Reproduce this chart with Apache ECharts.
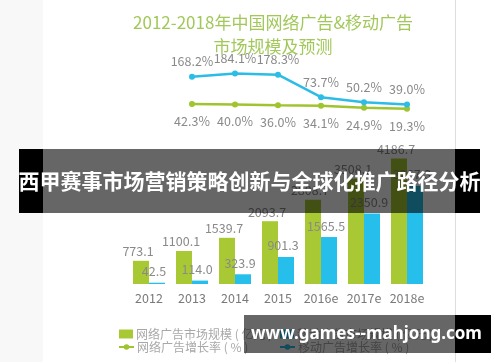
<!DOCTYPE html>
<html>
<head>
<meta charset="utf-8">
<script src="https://cdn.jsdelivr.net/npm/echarts@6/dist/echarts.min.js"></script>
<style>
html,body{margin:0;padding:0;background:#fff;}
#c{width:500px;height:362px;}
</style>
</head>
<body>
<div id="c"></div>
<script>
var titleText = '2012-2018年中国网络广告&移动广告\n市场规模及预测';
var categories = ['2012', '2013', '2014', '2015', '2016e', '2017e', '2018e'];
var onlineAdSize = [773.1, 1100.1, 1539.7, 2093.7, 2808.7, 3508.1, 4186.7];
var mobileAdSize = [42.5, 114.0, 323.9, 901.3, 1565.5, 2350.9, 3267.3];
var onlineGrowth = [null, 42.3, 40.0, 36.0, 34.1, 24.9, 19.3];
var mobileGrowth = [null, 168.2, 184.1, 178.3, 73.7, 50.2, 39.0];
var seriesNames = ['网络广告市场规模 ( 亿元 )', '移动广告市场规模 ( 亿元 )', '网络广告增长率 ( % )', '移动广告增长率 ( % )'];
var bannerText = '西甲赛事市场营销策略创新与全球化推广路径分析';
var watermarkText = 'www.games--mahjong.com';

var GREEN = '#a9c934', BLUE = '#26bfeb', LGREEN = '#9fc42f', LBLUE = '#2cbce6';
var FONT = '"Noto Sans CJK SC", "Noto Sans", sans-serif';
var chart = echarts.init(document.getElementById('c'), null, {renderer: 'canvas'});

function legendCfg(name, left, top, icon, w, h) {
  return {
    data: [{name: name, icon: icon}],
    left: left, top: top, itemWidth: w, itemHeight: h, itemGap: 0, padding: 0,
    selectedMode: false,
    textStyle: {color: '#a8a8a8', fontSize: 12, fontFamily: FONT, padding: [0, 0, 0, -2]}
  };
}

var option = {
  backgroundColor: '#ffffff',
  animation: false,
  textStyle: {fontFamily: FONT},
  title: {
    text: titleText,
    left: 268, top: 6, textAlign: 'center',
    textStyle: {fontSize: 17, fontWeight: 'normal', color: '#a2c85a', lineHeight: 24, fontFamily: FONT}
  },
  legend: [
    legendCfg(seriesNames[0], 119, 328, 'rect', 14, 9),
    legendCfg(seriesNames[1], 280, 328, 'rect', 14, 9),
    legendCfg(seriesNames[2], 118, 341, null, 15, 7),
    legendCfg(seriesNames[3], 279, 341, null, 15, 7)
  ],
  grid: [
    {left: 127.5, width: 301, top: 134, bottom: 78},
    {left: 127.5, width: 301, top: 70, bottom: 249}
  ],
  xAxis: [
    {
      type: 'category', gridIndex: 0, data: categories,
      axisLine: {show: false}, axisTick: {show: false},
      axisLabel: {color: '#7a7a7a', fontSize: 12.5, margin: 8, interval: 0, fontFamily: FONT}
    },
    {
      type: 'category', gridIndex: 1, data: categories, show: false
    }
  ],
  yAxis: [
    {type: 'value', gridIndex: 0, min: 0, max: 5000, show: false, splitLine: {show: false}},
    {type: 'value', gridIndex: 1, min: 0, max: 200, show: false, splitLine: {show: false}}
  ],
  series: [
    {
      name: seriesNames[0], type: 'bar', xAxisIndex: 0, yAxisIndex: 0,
      data: onlineAdSize, barWidth: 16, barGap: '0%',
      itemStyle: {color: GREEN},
      label: {show: true, position: 'top', distance: 3, offset: [-3, 0], color: '#8a8a8a', fontSize: 12.5, fontFamily: FONT,
        formatter: function (p) { return p.value.toFixed(1); }}
    },
    {
      name: seriesNames[1], type: 'bar', xAxisIndex: 0, yAxisIndex: 0,
      data: mobileAdSize, barWidth: 16, barGap: '0%',
      itemStyle: {color: BLUE},
      label: {show: true, position: 'top', distance: 5, offset: [-3, 0], color: '#8a8a8a', fontSize: 12.5, fontFamily: FONT,
        formatter: function (p) { return p.value.toFixed(1); }}
    },
    {
      name: seriesNames[2], type: 'line', xAxisIndex: 1, yAxisIndex: 1,
      data: onlineGrowth, symbol: 'circle', symbolSize: 6,
      lineStyle: {color: LGREEN, width: 2.5}, itemStyle: {color: LGREEN},
      label: {show: true, position: 'bottom', distance: 8, color: '#8a8a8a', fontSize: 12.5, fontFamily: FONT,
        formatter: function (p) { return p.value.toFixed(1) + '%'; }}
    },
    {
      name: seriesNames[3], type: 'line', xAxisIndex: 1, yAxisIndex: 1,
      data: mobileGrowth, symbol: 'circle', symbolSize: 6,
      lineStyle: {color: LBLUE, width: 2.5}, itemStyle: {color: LBLUE},
      label: {show: true, position: 'top', distance: 6, color: '#8a8a8a', fontSize: 12.5, fontFamily: FONT,
        formatter: function (p) { return p.value.toFixed(1) + '%'; }}
    }
  ],
  graphic: [
    {type: 'rect', z: -10, silent: true, shape: {x: 0, y: 0, width: 43, height: 362}, style: {fill: '#f8f8f8'}},
    {type: 'line', z: 10, silent: true, shape: {x1: 455.5, y1: 0, x2: 455.5, y2: 362}, style: {stroke: '#dedede', lineWidth: 1}},
    {type: 'rect', z: 100, silent: true, shape: {x: 19, y: 149, width: 24, height: 64}, style: {fill: '#000'}},
    {type: 'rect', z: 100, silent: true, shape: {x: 43, y: 149, width: 412, height: 64}, style: {fill: 'rgba(0,0,0,0.6)'}},
    {type: 'rect', z: 100, silent: true, shape: {x: 455, y: 149, width: 25, height: 64}, style: {fill: '#000'}},
    {type: 'text', z: 101, silent: true, x: 249.5, y: 181,
      style: {text: bannerText, fill: '#fff', font: 'bold 21px ' + FONT, textAlign: 'center', textVerticalAlign: 'middle'}},
    {type: 'rect', z: 100, silent: true, shape: {x: 244, y: 315, width: 211, height: 38}, style: {fill: 'rgba(0,0,0,0.6)'}},
    {type: 'rect', z: 100, silent: true, shape: {x: 455, y: 315, width: 36, height: 38}, style: {fill: '#000'}},
    {type: 'text', z: 101, silent: true, x: 366.5, y: 334,
      style: {text: watermarkText, fill: '#fff', font: 'bold 17px "Noto Sans", sans-serif', textAlign: 'center', textVerticalAlign: 'middle'}}
  ]
};
chart.setOption(option);
</script>
</body>
</html>
